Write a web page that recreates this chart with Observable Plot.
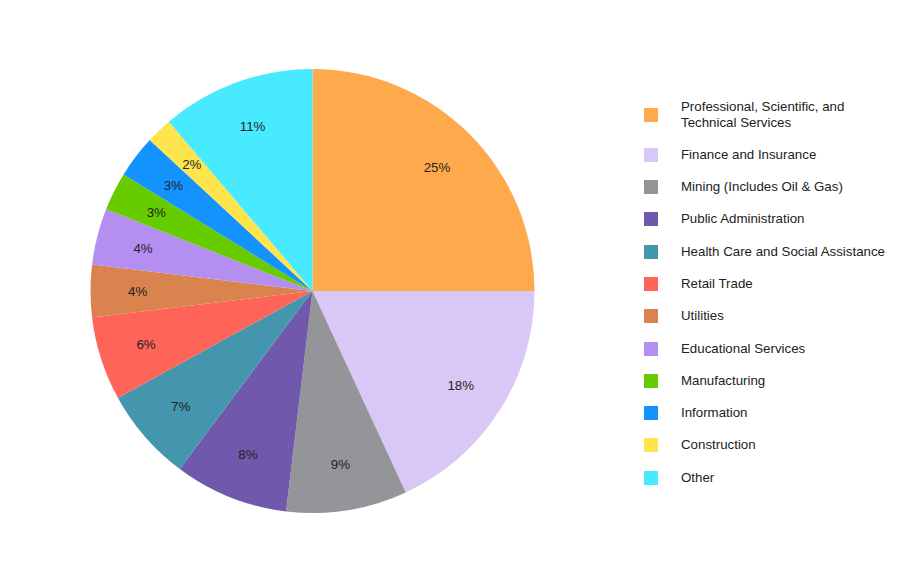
<!DOCTYPE html>
<html>
<head>
<meta charset="utf-8">
<script src="https://cdn.jsdelivr.net/npm/d3@7"></script>
<script src="https://cdn.jsdelivr.net/npm/@observablehq/plot@0.6"></script>
<style>
  html, body { margin: 0; padding: 0; background: #fff; }
  #wrap { position: relative; width: 924px; height: 582px; font-family: "Liberation Sans", Arial, sans-serif; }
  #chart svg { display: block; }
  #legend { position: absolute; left: 644px; top: 98.5px; font-size: 13.3px; color: #222; }
  .row { display: flex; align-items: center; margin-bottom: 16.3px; line-height: 16px; }
  .sw { width: 14px; height: 14px; flex: none; margin-right: 23px; }
</style>
</head>
<body>
<div id="wrap">
  <div id="chart"></div>
  <div id="legend"></div>
</div>
<script>
const categories = [
  "Professional, Scientific, and\nTechnical Services",
  "Finance and Insurance",
  "Mining (Includes Oil & Gas)",
  "Public Administration",
  "Health Care and Social Assistance",
  "Retail Trade",
  "Utilities",
  "Educational Services",
  "Manufacturing",
  "Information",
  "Construction",
  "Other"
];
const shares = [25.0, 18.1, 8.8, 8.3, 6.8, 6.1, 3.8, 4.1, 2.8, 3.1, 1.9, 11.2];
const shareLabels = ["25%", "18%", "9%", "8%", "7%", "6%", "4%", "4%", "3%", "3%", "2%", "11%"];
const palette = ["#FFA94D", "#D9C8F5", "#939598", "#7058AD", "#4396AE", "#FF6459",
                 "#D9834F", "#B48EF0", "#66CC00", "#1493FF", "#FFE54D", "#48EAFF"];

const data = categories.map((name, i) => ({name, value: shares[i], label: shareLabels[i]}));
const arcs = d3.pie().sort(null).value(d => d.value)(data);
const color = Plot.scale({color: {type: "ordinal", domain: categories, range: palette}});
const labelRadius = 0.79;

const pieMark = (index, scales) => {
  const cx = scales.x(0), cy = scales.y(0);
  const r = scales.x(1) - scales.x(0);
  const arcGen = d3.arc().innerRadius(0).outerRadius(r);
  const g = d3.create("svg:g").attr("transform", `translate(${cx},${cy})`);
  g.selectAll("path").data(arcs).join("path")
    .attr("d", arcGen)
    .attr("fill", d => color.apply(d.data.name));
  return g.node();
};

const plot = Plot.plot({
  width: 924,
  height: 582,
  margin: 0,
  x: {domain: [-1, 1], range: [90.5, 534.5], axis: null},
  y: {domain: [-1, 1], range: [513, 69], axis: null},
  marks: [
    pieMark,
    Plot.text(arcs, {
      x: d => labelRadius * Math.sin((d.startAngle + d.endAngle) / 2),
      y: d => labelRadius * Math.cos((d.startAngle + d.endAngle) / 2),
      text: d => d.data.label,
      fill: "#222",
      fontSize: 13.3,
      fontFamily: "Liberation Sans, Arial, sans-serif"
    })
  ]
});
document.getElementById("chart").appendChild(plot);

const legend = d3.select("#legend");
categories.forEach(name => {
  const row = legend.append("div").attr("class", "row");
  row.append("div").attr("class", "sw").style("background", color.apply(name));
  row.append("div").html(name.replace("\n", "<br>"));
});
</script>
</body>
</html>
